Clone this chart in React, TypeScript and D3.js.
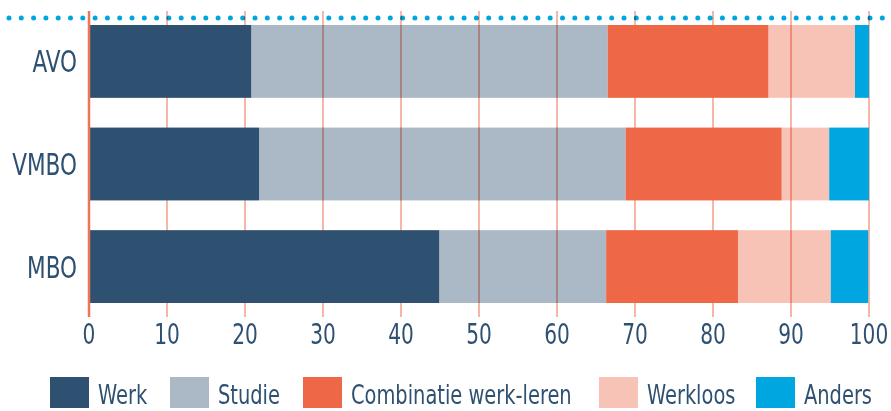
import { useEffect, useRef } from "react"
import * as d3 from "d3"

const categories = ["AVO", "VMBO", "MBO"]
const seriesNames = ["Werk", "Studie", "Combinatie werk-leren", "Werkloos", "Anders"]
const werk = [20.8, 21.8, 44.9]
const studie = [45.7, 47.0, 21.4]
const combinatie = [20.6, 20.0, 16.9]
const werkloos = [11.1, 6.1, 11.9]
const anders = [1.8, 5.1, 4.8]
const xTicks = [0, 10, 20, 30, 40, 50, 60, 70, 80, 90, 100]

const colors = ["#2e5071", "#abb8c5", "#ee6746", "#f8c3b7", "#00a6e0"]
// series that let the grid show through
const seeThrough = ["Studie", "Werkloos"]
const FONT = "'DejaVu Sans Condensed', 'Liberation Sans Narrow', sans-serif"
const TEXT = "#2e5071"
const SQUEEZE = 0.8

const App = () => {
  const svgRef = useRef<SVGSVGElement | null>(null)

  useEffect(() => {
    if (!svgRef.current) return
    const svg = d3.select(svgRef.current)
    svg.selectAll("*").remove()

    const width = 891
    const left = 89
    const right = 869

    const x = d3.scaleLinear().domain([0, 100]).range([left, right])
    const y = d3.scaleBand<string>().domain(categories).range([25, 303]).paddingInner(0.29).paddingOuter(0)

    const rows = categories.map((c, i) => ({
      cat: c,
      Werk: werk[i],
      Studie: studie[i],
      "Combinatie werk-leren": combinatie[i],
      Werkloos: werkloos[i],
      Anders: anders[i],
    }))
    const stacked = d3.stack<any>().keys(seriesNames)(rows)

    // dotted line at top
    svg
      .append("line")
      .attr("x1", 9)
      .attr("x2", width)
      .attr("y1", 18)
      .attr("y2", 18)
      .attr("stroke", "#00a6e0")
      .attr("stroke-width", 5)
      .attr("stroke-linecap", "round")
      .attr("stroke-dasharray", "0 12.3")

    const drawLayers = (g: d3.Selection<SVGGElement, unknown, null, undefined>, keep: (k: string) => boolean) => {
      stacked.forEach((layer, si) => {
        if (!keep(layer.key)) return
        g.append("g")
          .selectAll("rect")
          .data(layer)
          .join("rect")
          .attr("x", (d) => x(d[0]))
          .attr("width", (d) => x(d[1]) - x(d[0]))
          .attr("y", (d: any) => y(d.data.cat)!)
          .attr("height", y.bandwidth())
          .attr("fill", colors[si])
      })
    }

    const plot = svg.append("g")
    drawLayers(plot, (k) => seeThrough.includes(k))

    // gridlines (multiplied over the light bars)
    plot
      .append("g")
      .selectAll("line")
      .data(xTicks.filter((t) => t > 0))
      .join("line")
      .attr("x1", (d) => x(d))
      .attr("x2", (d) => x(d))
      .attr("y1", 11)
      .attr("y2", 317)
      .attr("stroke", "#f6b7a8")
      .attr("stroke-width", 2)
      .style("mix-blend-mode", "multiply")

    drawLayers(plot, (k) => !seeThrough.includes(k))

    // zero axis line
    svg
      .append("line")
      .attr("x1", x(0))
      .attr("x2", x(0))
      .attr("y1", 11)
      .attr("y2", 317)
      .attr("stroke", "#ef7557")
      .attr("stroke-width", 2.5)

    // x tick labels
    svg
      .append("g")
      .selectAll("text")
      .data(xTicks)
      .join("text")
      .attr("transform", (d) => `translate(${x(d)},344) scale(${SQUEEZE},1)`)
      .attr("text-anchor", "middle")
      .attr("font-family", FONT)
      .attr("font-size", 28)
      .attr("fill", TEXT)
      .text((d) => d)

    // category labels
    svg
      .append("g")
      .selectAll("text")
      .data(categories)
      .join("text")
      .attr("transform", (d) => `translate(77,${y(d)! + y.bandwidth() / 2 + 11}) scale(${SQUEEZE},1)`)
      .attr("text-anchor", "end")
      .attr("font-family", FONT)
      .attr("font-size", 30)
      .attr("fill", TEXT)
      .text((d) => d)

    // legend
    const legendX = [50, 170, 303, 599, 756]
    const legend = svg
      .append("g")
      .selectAll("g")
      .data(seriesNames)
      .join("g")
      .attr("transform", (d, i) => `translate(${legendX[i]},377)`)
    legend
      .append("rect")
      .attr("width", 39)
      .attr("height", 31)
      .attr("fill", (d, i) => colors[i])
    legend
      .append("text")
      .attr("transform", `translate(48,27) scale(${SQUEEZE},1)`)
      .attr("font-family", FONT)
      .attr("font-size", 27)
      .attr("fill", TEXT)
      .text((d) => d)
  }, [])

  return (
    <svg
      ref={svgRef}
      width={891}
      height={411}
      style={{ position: "absolute", left: 0, top: 0, background: "#fff" }}
    />
  )
}

export default App
